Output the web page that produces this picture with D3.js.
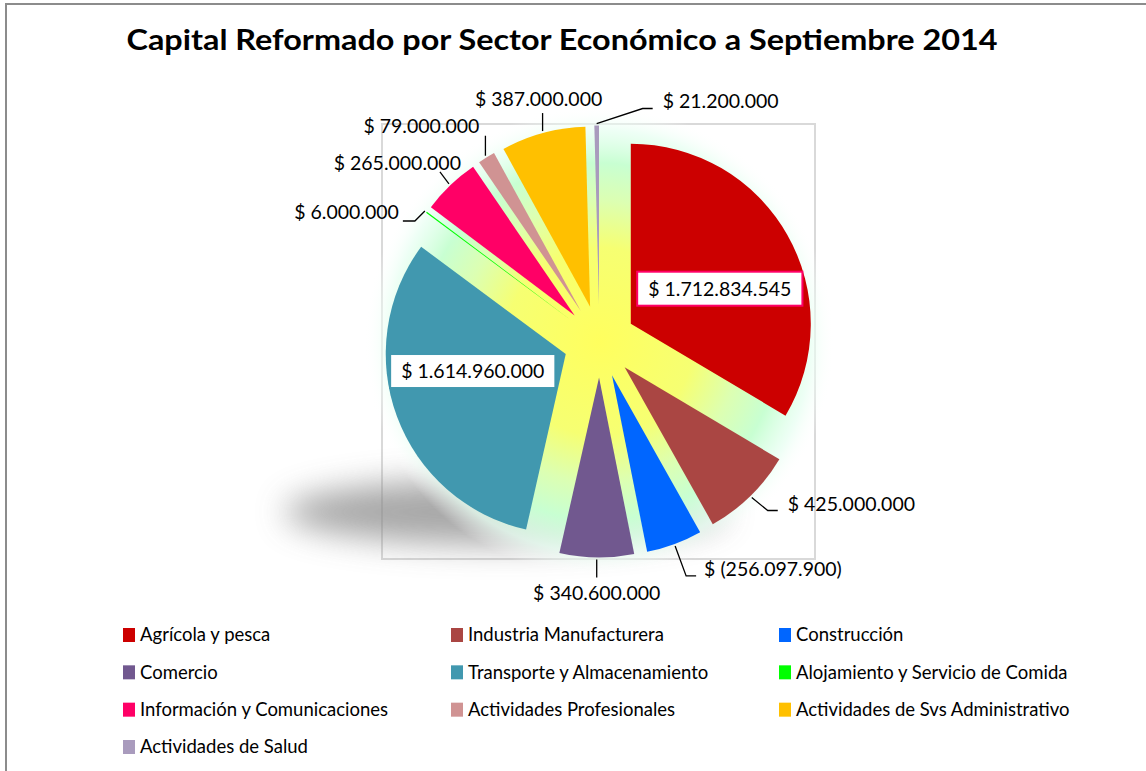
<!DOCTYPE html>
<html>
<head>
<meta charset="utf-8">
<script src="https://cdn.jsdelivr.net/npm/d3@7"></script>
<style>
body { margin: 0; background: #fff; }
svg { display: block; font-family: Lato, "Open Sans", sans-serif; }
</style>
</head>
<body>
<script>
// sectores y capital reformado
var sectors = ["Agrícola y pesca", "Industria Manufacturera", "Construcción",
  "Comercio", "Transporte y Almacenamiento", "Alojamiento y Servicio de Comida",
  "Información y Comunicaciones", "Actividades Profesionales",
  "Actividades de Svs Administrativo", "Actividades de Salud"];
var values = [1712834545, 425000000, -256097900, 340600000, 1614960000,
  6000000, 265000000, 79000000, 387000000, 21200000];
var colors = ["#cc0000", "#aa4643", "#0066ff", "#71588f", "#4198af",
  "#00ff00", "#ff0066", "#d09393", "#ffc000", "#a99bbd"];

var title = "Capital Reformado por Sector Económico a Septiembre 2014";

// where Excel put each data label (offsets from the leader start / slice tip)
var labelLayout = [
  { box: true, dx: 89, dy: -35, border: "#ff0066" },
  { line: [[16, 13], [26, 13]], tx: 36, ty: 6, anchor: "start" },
  { line: [[11, 30], [21, 30]], tx: 29, ty: 23, anchor: "start" },
  { line: [[0, 18]], tx: 0, ty: 33, anchor: "middle" },
  { box: true, dx: -93, dy: 17, border: "#4198af" },
  { line: [[-10, 10], [-22, 10]], tx: -26, ty: 1, anchor: "end" },
  { line: [[-9, -12]], tx: 12, ty: -21, anchor: "end" },
  { line: [[0, -20]], tx: -6, ty: -30, anchor: "end" },
  { line: [[0, -18]], tx: -4, ty: -32, anchor: "middle" },
  { line: [[46, -15], [56, -15]], tx: 66, ty: -23, anchor: "start" }
];

var width = 1146, height = 771;
var cx = 599.5, cy = 341.5, radius = 180, explode = 36;

var num = d3.format(",");
function money(v) {
  var s = num(Math.abs(v)).replace(/,/g, ".");
  return v < 0 ? "$ (" + s + ")" : "$ " + s;
}

var svg = d3.select("body").append("svg")
  .attr("width", width)
  .attr("height", height);

var defs = svg.append("defs");

defs.append("filter").attr("id", "blur")
  .attr("x", "-50%").attr("y", "-100%").attr("width", "200%").attr("height", "300%")
  .append("feGaussianBlur").attr("stdDeviation", 16);

var glow = defs.append("radialGradient").attr("id", "glow");
[[0, "#ffff5e", 1], [0.4, "#f6ff72", 1], [0.6, "#dcffb2", 1],
 [0.76, "#c8ffd2", 1], [0.9, "#e8fff2", 0.75], [1, "#ffffff", 0]].forEach(function(s) {
  glow.append("stop").attr("offset", s[0]).attr("stop-color", s[1]).attr("stop-opacity", s[2]);
});

// chart area
svg.append("rect")
  .attr("x", 6).attr("y", 4)
  .attr("width", width + 10).attr("height", height + 10)
  .attr("fill", "#fff")
  .attr("stroke", "#8c8c8c")
  .attr("stroke-width", 2);

svg.append("text")
  .attr("x", 562).attr("y", 50)
  .attr("text-anchor", "middle")
  .attr("font-size", 29)
  .attr("font-weight", "bold")
  .attr("textLength", 871)
  .attr("lengthAdjust", "spacingAndGlyphs")
  .text(title);

// plot area
svg.append("rect")
  .attr("x", 382).attr("y", 124)
  .attr("width", 433).attr("height", 435)
  .attr("fill", "none")
  .attr("stroke", "#d9d9d9")
  .attr("stroke-width", 2);

svg.append("ellipse")
  .attr("cx", 505).attr("cy", 512)
  .attr("rx", 220).attr("ry", 33)
  .attr("fill", "#8a8a8a")
  .attr("opacity", 0.75)
  .attr("filter", "url(#blur)");

svg.append("circle")
  .attr("cx", cx).attr("cy", cy)
  .attr("r", radius + 55)
  .attr("fill", "url(#glow)");

var pie = d3.pie()
  .sort(null)
  .value(function(d) { return Math.abs(d); });

var arcs = pie(values);

var arc = d3.arc()
  .outerRadius(radius)
  .innerRadius(0);

function dir(d) {
  var a = (d.startAngle + d.endAngle) / 2;
  return [Math.sin(a), -Math.cos(a)];
}

var g = svg.append("g").attr("transform", "translate(" + cx + "," + cy + ")");

g.selectAll(".slice")
  .data(arcs)
  .enter().append("path")
  .attr("class", "slice")
  .attr("transform", function(d) {
    var u = dir(d);
    return "translate(" + u[0] * explode + "," + u[1] * explode + ")";
  })
  .attr("d", arc)
  .attr("fill", function(d, i) { return colors[i]; });

// data labels
arcs.forEach(function(d, i) {
  var L = labelLayout[i], u = dir(d);
  if (L.box) {
    var px = u[0] * explode + L.dx, py = u[1] * explode + L.dy;
    var lg = g.append("g");
    var bx = lg.append("rect");
    var t = lg.append("text")
      .attr("x", px).attr("y", py)
      .attr("dy", "0.36em")
      .attr("text-anchor", "middle")
      .attr("font-size", 19.5)
      .text(money(values[i]));
    var bb = t.node().getBBox();
    bx.attr("x", bb.x - 11).attr("y", py - 17)
      .attr("width", bb.width + 22).attr("height", 34)
      .attr("fill", "#fff")
      .attr("stroke", L.border)
      .attr("stroke-width", 2);
  } else {
    var sr = radius + explode + 2;
    var s = [u[0] * sr, u[1] * sr];
    var pts = [s].concat(L.line.map(function(p) { return [s[0] + p[0], s[1] + p[1]]; }));
    g.append("path")
      .attr("d", d3.line()(pts))
      .attr("fill", "none")
      .attr("stroke", "#000")
      .attr("stroke-width", 1.3);
    g.append("text")
      .attr("x", s[0] + L.tx).attr("y", s[1] + L.ty)
      .attr("dy", "0.36em")
      .attr("text-anchor", L.anchor)
      .attr("font-size", 19.5)
      .text(money(values[i]));
  }
});

// legend
var colX = d3.scalePoint().domain([0, 1, 2]).range([123, 779]);
var rowY = d3.scalePoint().domain([0, 1, 2, 3]).range([635, 747]);

var legend = svg.selectAll(".legend")
  .data(sectors)
  .enter().append("g")
  .attr("class", "legend")
  .attr("transform", function(d, i) {
    return "translate(" + colX(i % 3) + "," + rowY(Math.floor(i / 3)) + ")";
  });

legend.append("rect")
  .attr("x", 0).attr("y", -7)
  .attr("width", 12).attr("height", 14)
  .attr("fill", function(d, i) { return colors[i]; });

legend.append("text")
  .attr("x", 17).attr("y", 0)
  .attr("dy", "0.35em")
  .attr("font-size", 18.5)
  .text(function(d) { return d; });
</script>
</body>
</html>
